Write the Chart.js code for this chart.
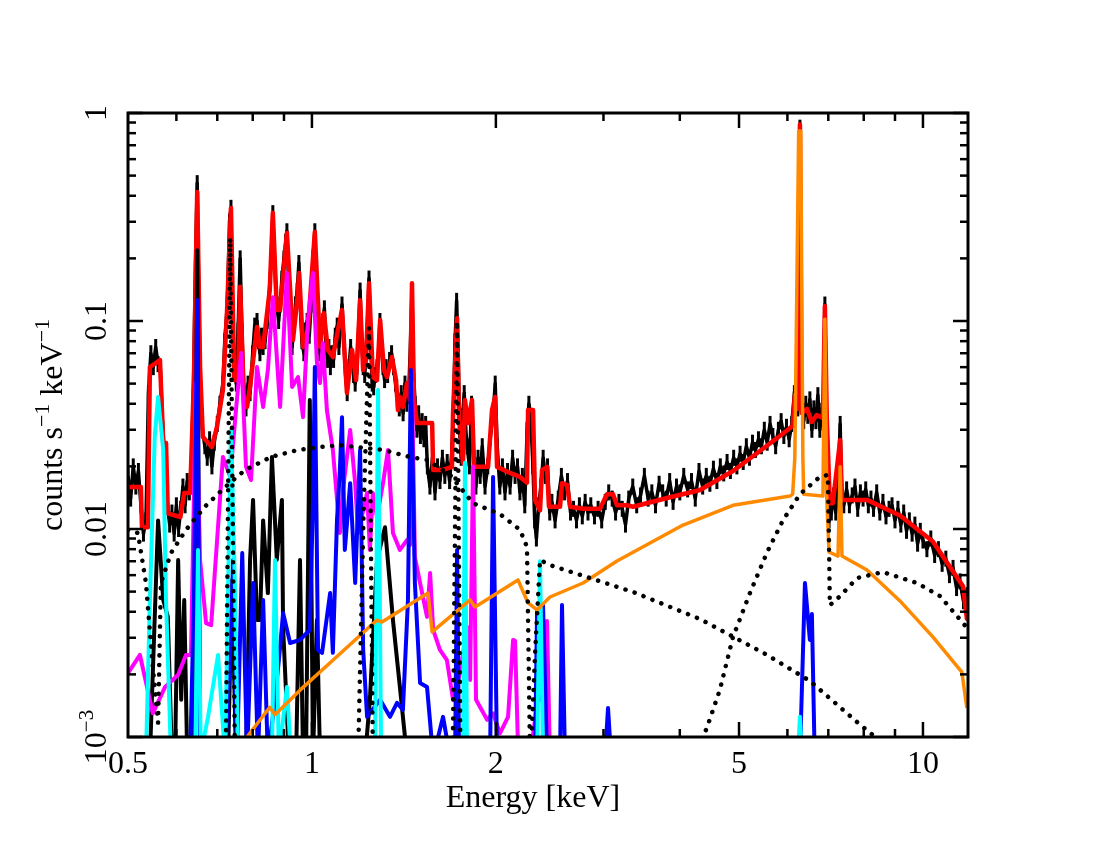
<!DOCTYPE html>
<html>
<head>
<meta charset="utf-8">
<script src="https://cdn.jsdelivr.net/npm/chart.js@4.4.1/dist/chart.umd.min.js"></script>
<style>
  html, body { margin: 0; padding: 0; background: #fff; }
  canvas { display: block; }
</style>
</head>
<body>
<canvas id="spec" width="1100" height="850"></canvas>
<script>
// observed counts [keV, counts/s/keV]
const dataPts = [[0.5,0.018],[0.505,0.014],[0.51,0.02],[0.515,0.016],[0.52,0.019],[0.525,0.013],[0.53,0.0095],[0.535,0.011],[0.54,0.045],[0.545,0.07],[0.55,0.06],[0.555,0.075],[0.56,0.062],[0.565,0.058],[0.57,0.03],[0.575,0.022],[0.58,0.013],[0.585,0.0105],[0.59,0.012],[0.595,0.0095],[0.6,0.013],[0.605,0.01],[0.61,0.0125],[0.615,0.016],[0.62,0.013],[0.625,0.017],[0.63,0.015],[0.635,0.02],[0.64,0.05],[0.645,0.2],[0.649,0.46],[0.653,0.12],[0.657,0.045],[0.662,0.03],[0.668,0.025],[0.674,0.022],[0.68,0.027],[0.686,0.02],[0.692,0.026],[0.7,0.032],[0.707,0.04],[0.715,0.05],[0.72,0.08],[0.727,0.12],[0.733,0.3],[0.737,0.35],[0.741,0.12],[0.746,0.06],[0.752,0.05],[0.757,0.09],[0.763,0.2],[0.768,0.09],[0.774,0.045],[0.78,0.038],[0.786,0.05],[0.792,0.045],[0.8,0.07],[0.806,0.095],[0.813,0.1],[0.818,0.08],[0.822,0.07],[0.827,0.085],[0.832,0.075],[0.838,0.08],[0.845,0.1],[0.853,0.15],[0.858,0.2],[0.863,0.33],[0.868,0.2],[0.876,0.12],[0.882,0.1],[0.887,0.12],[0.893,0.16],[0.9,0.2],[0.906,0.24],[0.91,0.27],[0.916,0.15],[0.922,0.09],[0.928,0.075],[0.933,0.09],[0.94,0.12],[0.946,0.14],[0.952,0.19],[0.958,0.11],[0.963,0.08],[0.97,0.07],[0.976,0.09],[0.982,0.1],[0.99,0.085],[0.997,0.12],[1.004,0.2],[1.011,0.27],[1.018,0.12],[1.024,0.08],[1.03,0.07],[1.036,0.09],[1.042,0.1],[1.048,0.115],[1.054,0.08],[1.06,0.065],[1.066,0.075],[1.072,0.06],[1.078,0.07],[1.085,0.065],[1.092,0.085],[1.1,0.095],[1.107,0.075],[1.115,0.1],[1.12,0.12],[1.128,0.08],[1.135,0.055],[1.142,0.045],[1.15,0.06],[1.157,0.075],[1.163,0.065],[1.17,0.055],[1.177,0.05],[1.185,0.06],[1.192,0.09],[1.199,0.14],[1.206,0.08],[1.213,0.06],[1.22,0.055],[1.226,0.07],[1.233,0.1],[1.24,0.16],[1.247,0.08],[1.255,0.05],[1.262,0.048],[1.27,0.055],[1.278,0.06],[1.285,0.07],[1.292,0.1],[1.3,0.075],[1.307,0.06],[1.315,0.052],[1.322,0.06],[1.33,0.055],[1.34,0.065],[1.35,0.07],[1.36,0.06],[1.37,0.05],[1.38,0.042],[1.39,0.038],[1.4,0.045],[1.41,0.036],[1.42,0.05],[1.43,0.04],[1.44,0.045],[1.45,0.08],[1.458,0.14],[1.465,0.06],[1.475,0.04],[1.485,0.03],[1.495,0.036],[1.505,0.028],[1.515,0.033],[1.525,0.027],[1.535,0.032],[1.545,0.02],[1.56,0.016],[1.575,0.022],[1.59,0.015],[1.605,0.02],[1.62,0.017],[1.635,0.022],[1.65,0.018],[1.665,0.021],[1.68,0.017],[1.695,0.024],[1.705,0.04],[1.715,0.08],[1.725,0.125],[1.735,0.07],[1.745,0.03],[1.755,0.022],[1.765,0.035],[1.775,0.045],[1.785,0.03],[1.795,0.025],[1.81,0.02],[1.825,0.04],[1.84,0.022],[1.855,0.016],[1.87,0.022],[1.885,0.018],[1.9,0.025],[1.92,0.016],[1.94,0.02],[1.96,0.028],[1.98,0.036],[1.995,0.05],[2.01,0.025],[2.03,0.016],[2.05,0.02],[2.07,0.015],[2.09,0.019],[2.11,0.016],[2.13,0.022],[2.15,0.018],[2.17,0.02],[2.19,0.015],[2.21,0.018],[2.23,0.013],[2.25,0.03],[2.265,0.04],[2.28,0.035],[2.3,0.02],[2.315,0.011],[2.33,0.009],[2.35,0.013],[2.37,0.016],[2.39,0.022],[2.41,0.018],[2.43,0.02],[2.45,0.012],[2.47,0.0135],[2.5,0.011],[2.53,0.014],[2.56,0.018],[2.59,0.015],[2.62,0.017],[2.65,0.012],[2.68,0.0125],[2.71,0.011],[2.74,0.013],[2.77,0.0115],[2.8,0.0135],[2.83,0.012],[2.86,0.013],[2.9,0.0115],[2.94,0.0125],[2.98,0.011],[3.02,0.0135],[3.06,0.015],[3.1,0.014],[3.14,0.012],[3.18,0.0135],[3.22,0.0125],[3.26,0.0105],[3.3,0.014],[3.35,0.016],[3.4,0.013],[3.45,0.0145],[3.5,0.018],[3.55,0.014],[3.6,0.015],[3.65,0.013],[3.7,0.0165],[3.75,0.015],[3.8,0.014],[3.85,0.017],[3.9,0.0135],[3.95,0.016],[4.0,0.015],[4.06,0.018],[4.12,0.0155],[4.18,0.017],[4.24,0.014],[4.3,0.019],[4.36,0.016],[4.42,0.018],[4.48,0.0165],[4.54,0.0195],[4.6,0.017],[4.66,0.02],[4.72,0.0185],[4.78,0.021],[4.84,0.019],[4.9,0.022],[4.96,0.02],[5.02,0.023],[5.08,0.021],[5.14,0.025],[5.2,0.022],[5.26,0.026],[5.32,0.024],[5.38,0.027],[5.44,0.025],[5.5,0.03],[5.56,0.026],[5.62,0.032],[5.68,0.028],[5.74,0.025],[5.8,0.03],[5.86,0.033],[5.92,0.028],[5.98,0.031],[6.04,0.027],[6.1,0.032],[6.16,0.045],[6.2,0.05],[6.24,0.038],[6.27,0.3],[6.29,0.85],[6.31,0.3],[6.33,0.04],[6.38,0.033],[6.43,0.04],[6.48,0.035],[6.53,0.042],[6.58,0.03],[6.63,0.038],[6.68,0.033],[6.73,0.044],[6.78,0.03],[6.83,0.037],[6.88,0.04],[6.91,0.12],[6.94,0.04],[6.98,0.025],[7.02,0.011],[7.08,0.012],[7.14,0.0145],[7.2,0.012],[7.26,0.016],[7.32,0.032],[7.36,0.015],[7.42,0.013],[7.5,0.0155],[7.58,0.013],[7.66,0.0145],[7.74,0.016],[7.82,0.0125],[7.9,0.015],[7.98,0.014],[8.06,0.0155],[8.14,0.013],[8.22,0.014],[8.3,0.0125],[8.4,0.015],[8.5,0.012],[8.6,0.0135],[8.7,0.0115],[8.8,0.0125],[8.9,0.013],[9.0,0.011],[9.1,0.0125],[9.2,0.0105],[9.3,0.012],[9.4,0.0098],[9.5,0.011],[9.6,0.0095],[9.7,0.0105],[9.8,0.0085],[9.9,0.0098],[10.0,0.0088],[10.15,0.008],[10.3,0.009],[10.45,0.0075],[10.6,0.008],[10.75,0.0068],[10.9,0.0072],[11.05,0.006],[11.2,0.0065],[11.35,0.0052],[11.5,0.0056],[11.65,0.0045],[11.8,0.0048]];

// total model (red)
const modelPts = [[0.5,0.0159],[0.525,0.0159],[0.527,0.0102],[0.539,0.0102],[0.543,0.0601],[0.564,0.0649],[0.571,0.0259],[0.577,0.0259],[0.581,0.0119],[0.609,0.0114],[0.618,0.0149],[0.632,0.0149],[0.641,0.052],[0.649,0.417],[0.656,0.0601],[0.663,0.0277],[0.686,0.0248],[0.699,0.0309],[0.715,0.0466],[0.726,0.109],[0.737,0.349],[0.746,0.052],[0.757,0.052],[0.763,0.146],[0.774,0.0417],[0.783,0.0386],[0.792,0.0482],[0.813,0.0935],[0.822,0.075],[0.832,0.075],[0.853,0.141],[0.863,0.331],[0.876,0.113],[0.887,0.113],[0.91,0.265],[0.931,0.081],[0.946,0.126],[0.953,0.17],[0.967,0.075],[0.985,0.0905],[1.011,0.268],[1.031,0.075],[1.046,0.109],[1.062,0.0726],[1.082,0.0671],[1.103,0.0905],[1.12,0.113],[1.141,0.0451],[1.163,0.0726],[1.181,0.052],[1.199,0.126],[1.213,0.0581],[1.226,0.0649],[1.24,0.152],[1.258,0.0538],[1.278,0.052],[1.293,0.101],[1.312,0.0581],[1.327,0.0538],[1.352,0.0671],[1.373,0.052],[1.383,0.0373],[1.393,0.0431],[1.409,0.0386],[1.431,0.0503],[1.447,0.0417],[1.458,0.152],[1.469,0.0417],[1.486,0.0323],[1.573,0.0323],[1.579,0.0192],[1.632,0.0192],[1.695,0.0199],[1.702,0.0361],[1.728,0.103],[1.741,0.0342],[1.767,0.0208],[1.78,0.0417],[1.801,0.0323],[1.828,0.0417],[1.842,0.0199],[1.884,0.0199],[1.942,0.0199],[1.971,0.0373],[1.994,0.0431],[2.009,0.0199],[2.11,0.0186],[2.191,0.0178],[2.249,0.0167],[2.258,0.0373],[2.301,0.0373],[2.318,0.0138],[2.362,0.0123],[2.38,0.0192],[2.425,0.0199],[2.443,0.0128],[2.547,0.0128],[2.566,0.0166],[2.615,0.0163],[2.645,0.0128],[2.778,0.0125],[2.961,0.0125],[3.04,0.0147],[3.11,0.0147],[3.157,0.013],[3.278,0.013],[3.354,0.0128],[3.812,0.0141],[4.317,0.0154],[4.888,0.019],[5.41,0.0237],[5.83,0.028],[6.12,0.0313],[6.17,0.0441],[6.24,0.0378],[6.29,0.88],[6.33,0.0361],[6.46,0.0378],[6.58,0.0327],[6.7,0.0353],[6.86,0.0342],[6.91,0.118],[6.96,0.0342],[7.04,0.0133],[7.12,0.0133],[7.32,0.0268],[7.37,0.0138],[8.1,0.0138],[9.17,0.0116],[10.38,0.0087],[11.63,0.0053],[11.8,0.0037],[11.85,0.0037]];

// model components (values under 1e-3 fall below the frame)
const magentaPts = [[0.5,0.00203],[0.523,0.00248],[0.549,0.0013],[0.575,0.00174],[0.604,0.00199],[0.622,0.00248],[0.634,0.00248],[0.646,0.0503],[0.656,0.0071],[0.671,0.00353],[0.684,0.00345],[0.715,0.0222],[0.735,0.0178],[0.751,0.0373],[0.766,0.0702],[0.78,0.0199],[0.795,0.0172],[0.813,0.0601],[0.832,0.0386],[0.847,0.0581],[0.863,0.13],[0.887,0.0386],[0.91,0.17],[0.928,0.0482],[0.949,0.0538],[0.967,0.0345],[0.985,0.101],[1.004,0.17],[1.019,0.0628],[1.031,0.0503],[1.042,0.0784],[1.058,0.0373],[1.082,0.024],[1.111,0.00957],[1.124,0.0154],[1.155,0.0299],[1.177,0.0166],[1.19,0.00957],[1.231,0.0149],[1.244,0.00793],[1.258,0.0149],[1.278,0.0114],[1.307,0.0166],[1.332,0.024],[1.357,0.00957],[1.393,0.00793],[1.431,0.00885],[1.447,0.00838],[1.458,0.0503],[1.474,0.00733],[1.503,0.0055],[1.543,0.00378],[1.561,0.00614],[1.579,0.00327],[1.62,0.00262],[1.663,0.00234],[1.702,0.00151],[1.747,0.00203],[1.794,0.00338],[1.815,0.00188],[1.835,0.02],[1.856,0.00151],[1.935,0.00121],[1.979,0.0013],[2.031,0.00104],[2.094,0.00125],[2.134,0.00293],[2.15,0.0029],[2.174,0.0009],[2.275,0.0008],[2.336,0.00144],[2.425,0.00361],[2.452,0.0008],[2.547,0.0008]];

const bluePts = [[0.5,0.0008],[0.632,0.0008],[0.641,0.00456],[0.649,0.126],[0.656,0.0008],[0.721,0.0008],[0.735,0.00262],[0.743,0.0071],[0.754,0.0008],[0.769,0.00767],[0.783,0.0008],[0.801,0.0055],[0.816,0.0008],[0.832,0.00456],[0.847,0.0008],[0.87,0.00151],[0.887,0.00271],[0.897,0.00395],[0.921,0.00283],[0.956,0.00293],[0.992,0.00327],[1.004,0.0138],[1.011,0.0601],[1.023,0.00262],[1.039,0.00254],[1.071,0.00492],[1.082,0.00254],[1.099,0.011],[1.111,0.0192],[1.12,0.0345],[1.132,0.00793],[1.155,0.0166],[1.177,0.0055],[1.199,0.024],[1.213,0.00262],[1.231,0.00125],[1.293,0.00151],[1.342,0.00125],[1.378,0.00146],[1.409,0.00135],[1.436,0.00456],[1.452,0.0581],[1.474,0.0055],[1.503,0.00182],[1.543,0.00174],[1.579,0.0008],[1.639,0.00125],[1.683,0.0008],[1.715,0.0008],[1.728,0.00793],[1.741,0.0008],[1.957,0.0008],[1.979,0.0178],[2.009,0.0008],[2.318,0.0008],[2.336,0.00408],[2.362,0.00151],[2.389,0.00431],[2.425,0.0008],[2.547,0.0008],[2.566,0.00431],[2.595,0.0008],[3.018,0.0008],[3.052,0.00138],[3.087,0.0008],[6.29,0.0008],[6.41,0.0055],[6.53,0.00293],[6.58,0.0039],[6.65,0.0008],[11.85,0.0008]];

const cyanPts = [[0.5,0.0008],[0.535,0.0008],[0.543,0.00456],[0.553,0.0277],[0.56,0.0431],[0.571,0.024],[0.577,0.00456],[0.588,0.0008],[0.644,0.0008],[0.651,0.00793],[0.658,0.0008],[0.666,0.001],[0.676,0.00125],[0.702,0.00248],[0.721,0.0008],[0.737,0.0299],[0.748,0.0055],[0.757,0.0008],[0.86,0.0008],[0.87,0.0071],[0.883,0.0008],[0.897,0.00121],[0.91,0.00174],[0.924,0.0008],[1.268,0.0008],[1.283,0.0466],[1.298,0.0008],[1.767,0.0008],[1.78,0.0208],[1.794,0.0008],[2.336,0.0008],[2.362,0.007],[2.389,0.0008],[6.24,0.0008],[6.29,0.00125],[6.33,0.0008],[11.85,0.0008]];

const blackLinePts = [[0.5,0.0008],[0.543,0.0008],[0.56,0.011],[0.571,0.00456],[0.581,0.00378],[0.59,0.0008],[0.597,0.0008],[0.604,0.0071],[0.611,0.00151],[0.618,0.00456],[0.625,0.0008],[0.641,0.0008],[0.649,0.219],[0.656,0.0008],[0.729,0.0008],[0.74,0.00569],[0.751,0.0008],[0.78,0.0008],[0.792,0.0071],[0.801,0.0138],[0.813,0.00365],[0.822,0.00365],[0.832,0.011],[0.847,0.00492],[0.86,0.0222],[0.876,0.0071],[0.893,0.0138],[0.897,0.00338],[0.917,0.0008],[0.942,0.0008],[0.956,0.0071],[0.967,0.0008],[0.978,0.0008],[0.992,0.0417],[1.004,0.0008],[1.019,0.00365],[1.031,0.0008],[1.222,0.0008],[1.244,0.00151],[1.278,0.0071],[1.317,0.0102],[1.357,0.00365],[1.393,0.00174],[1.431,0.0008],[11.85,0.0008]];

const orangePts = [[0.76,0.0008],[0.783,0.001],[0.853,0.00139],[0.87,0.00128],[0.956,0.00168],[1.082,0.00234],[1.278,0.00365],[1.302,0.00357],[1.549,0.00492],[1.573,0.0032],[1.815,0.00456],[1.849,0.00422],[2.174,0.00569],[2.258,0.00441],[2.336,0.00408],[2.452,0.00471],[2.778,0.0055],[3.157,0.00702],[4.049,0.01045],[4.888,0.013],[6.06,0.0144],[6.12,0.0147],[6.17,0.022],[6.26,0.82],[6.31,0.82],[6.36,0.022],[6.38,0.0147],[6.86,0.0144],[6.91,0.102],[6.96,0.0138],[7.02,0.00775],[7.26,0.00741],[7.32,0.0199],[7.37,0.00741],[8.1,0.00635],[9.17,0.00451],[10.38,0.00303],[11.58,0.00205],[11.8,0.00138]];

// dotted components
const dotSoftPts = [[0.5,0.0099],[0.519,0.00957],[0.535,0.0055],[0.549,0.00217],[0.56,0.00117],[0.566,0.0055],[0.588,0.00767],[0.622,0.0099],[0.668,0.0128],[0.721,0.0159],[0.777,0.0192],[0.857,0.0222],[0.949,0.024],[1.035,0.0248],[1.111,0.0253],[1.307,0.024],[1.447,0.0222],[1.543,0.0215],[1.683,0.0182],[1.835,0.0133],[1.92,0.0126],[2.031,0.0118],[2.191,0.0099],[2.249,0.00819],[2.275,0.0008]];
const dotLinePts = [[0.5,0.0008],[0.723,0.0008],[0.735,0.25],[0.748,0.0008],[1.19,0.0008],[1.215,0.012],[1.24,0.093],[1.258,0.0008],[1.7,0.0008],[1.728,0.1],[1.75,0.0008],[11.85,0.0008]];
const dotHardPts = [[2.28,0.0008],[2.318,0.0025],[2.362,0.0071],[2.452,0.00671],[3.354,0.00498],[4.317,0.00369],[5.56,0.00248],[6.53,0.00186],[7.8,0.00118],[8.35,0.001],[8.7,0.0008]];
const dotFePts = [[4.25,0.0008],[4.449,0.00115],[4.65,0.00168],[4.888,0.00303],[5.21,0.00492],[5.56,0.00775],[5.9,0.011],[6.29,0.0147],[6.78,0.0178],[6.99,0.0182],[7.02,0.0082],[7.04,0.0043],[7.32,0.00476],[7.8,0.00581],[8.6,0.00621],[9.78,0.0055],[10.66,0.00476],[11.63,0.00353],[11.85,0.0033]];

// axis ticks and labels
const xMajor = [1, 2, 5, 10];
const xMinor = [0.6, 0.7, 0.8, 0.9, 3, 4, 6, 7, 8, 9];
const xLabelVals = [0.5, 1, 2, 5, 10];
const xLabels = ['0.5', '1', '2', '5', '10'];
const yMajor = [0.001, 0.01, 0.1, 1];
const yLabels = ['10', '0.01', '0.1', '1'];

const toXY = pts => pts.map(p => ({ x: p[0], y: p[1] }));

function line(pts, color, width, order) {
  return {
    data: toXY(pts), showLine: true, borderColor: color, borderWidth: width,
    pointRadius: 0, tension: 0, order: order, clip: 0, borderJoinStyle: 'round'
  };
}
function dotted(pts) {
  const d = line(pts, '#000', 4.5, 1);
  d.borderDash = [0.1, 9.5];
  d.borderCapStyle = 'round';
  return d;
}

const serif = '"Liberation Serif", "Times New Roman", serif';

// frame, inward ticks and rotated labels (PGPLOT look)
const framePlugin = {
  id: 'frame',
  afterDraw(chart) {
    const { ctx, chartArea: a, scales: { x, y } } = chart;
    ctx.save();
    ctx.strokeStyle = '#000';
    ctx.lineWidth = 2.5;
    const seg = (x0, y0, x1, y1) => { ctx.beginPath(); ctx.moveTo(x0, y0); ctx.lineTo(x1, y1); ctx.stroke(); };

    xMajor.forEach(v => { const p = x.getPixelForValue(v); seg(p, a.bottom, p, a.bottom - 15); seg(p, a.top, p, a.top + 15); });
    xMinor.forEach(v => { const p = x.getPixelForValue(v); seg(p, a.bottom, p, a.bottom - 8); seg(p, a.top, p, a.top + 8); });
    yMajor.forEach(v => { const p = y.getPixelForValue(v); seg(a.left, p, a.left + 15, p); seg(a.right, p, a.right - 15, p); });
    for (let n = -3; n < 0; n++) {
      for (let k = 2; k <= 9; k++) {
        const p = y.getPixelForValue(k * Math.pow(10, n));
        seg(a.left, p, a.left + 8, p); seg(a.right, p, a.right - 8, p);
      }
    }
    ctx.lineWidth = 3;
    ctx.strokeRect(a.left, a.top, a.width, a.height);

    ctx.fillStyle = '#000';
    ctx.font = '32px ' + serif;
    ctx.textAlign = 'center';
    ctx.textBaseline = 'alphabetic';
    xLabelVals.forEach((v, i) => ctx.fillText(xLabels[i], x.getPixelForValue(v), 773));
    ctx.fillText('Energy [keV]', 533, 807);

    // rotated text made of [text, size, raise] pieces
    function rotated(parts, cx, cy) {
      ctx.save();
      ctx.translate(cx, cy);
      ctx.rotate(-Math.PI / 2);
      ctx.textAlign = 'left';
      let total = 0;
      parts.forEach(p => { ctx.font = p[1] + 'px ' + serif; total += ctx.measureText(p[0]).width; });
      let pos = -total / 2;
      parts.forEach(p => {
        ctx.font = p[1] + 'px ' + serif;
        ctx.fillText(p[0], pos, -p[2]);
        pos += ctx.measureText(p[0]).width;
      });
      ctx.restore();
    }
    yMajor.forEach((v, i) => {
      const parts = i === 0 ? [[yLabels[i], 32, 0], ['\u22123', 21, 13]] : [[yLabels[i], 32, 0]];
      rotated(parts, 106, y.getPixelForValue(v));
    });
    rotated([['counts s', 32, 0], ['\u22121', 22, 13], [' keV', 32, 0], ['\u22121', 22, 13]], 62, (a.top + a.bottom) / 2);
    ctx.restore();
  }
};

const obs = line(dataPts, '#000', 3.5, 9);
obs.pointStyle = 'line';
obs.pointRotation = 90;
obs.pointRadius = 8;
obs.pointBorderWidth = 3;
obs.pointBorderColor = '#000';

new Chart(document.getElementById('spec'), {
  type: 'scatter',
  data: {
    datasets: [
      obs,
      line(modelPts, '#ff0000', 4.5, 8),
      line(blackLinePts, '#000', 4, 7),
      line(magentaPts, '#ff00ff', 4, 6),
      line(bluePts, '#0000ff', 4, 5),
      line(cyanPts, '#00ffff', 4, 4),
      line(orangePts, '#ff8a00', 3.5, 3),
      dotted(dotSoftPts),
      dotted(dotLinePts),
      dotted(dotHardPts),
      dotted(dotFePts)
    ]
  },
  options: {
    responsive: false,
    animation: false,
    events: [],
    layout: { padding: { left: 128, right: 132, top: 113, bottom: 113 } },
    plugins: { legend: { display: false }, tooltip: { enabled: false } },
    scales: {
      x: { type: 'logarithmic', min: 0.5, max: 11.85, display: false },
      y: { type: 'logarithmic', min: 0.001, max: 1, display: false }
    }
  },
  plugins: [framePlugin]
});
</script>
</body>
</html>
